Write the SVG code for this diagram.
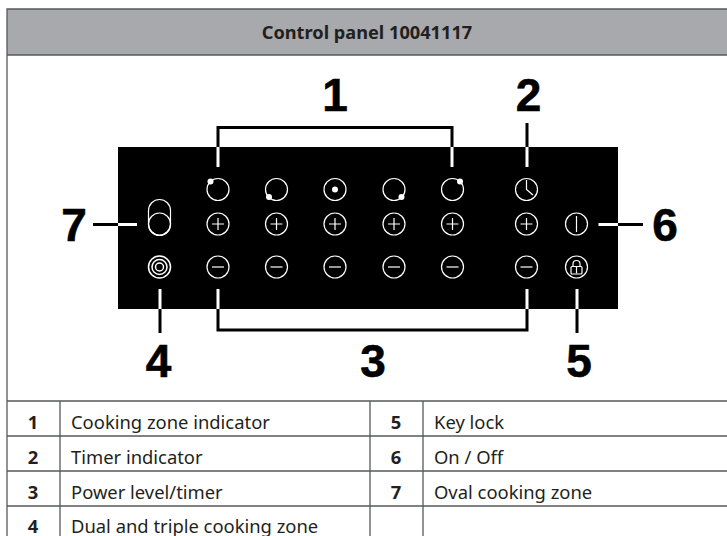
<svg xmlns="http://www.w3.org/2000/svg" width="727" height="536" viewBox="0 0 727 536">
<defs>
<style>
.w{fill:none;stroke:#fff;stroke-width:1.2}
.r{fill:none;stroke:#fff;stroke-width:1.5}
.d{fill:#fff}
.k{fill:none;stroke:#000;stroke-width:3}
.s{fill:none;stroke:#fff;stroke-width:3}
.g{fill:none;stroke:#58595b;stroke-width:1.3}
.n{font:700 46px "Liberation Sans",Arial,sans-serif;fill:#000;stroke:#000;stroke-width:.6;text-anchor:middle}
.h{font:700 18.2px "Noto Sans","Open Sans",sans-serif;fill:#231f20;text-anchor:middle}
.l{font:18.4px "Noto Sans","Open Sans",sans-serif;fill:#231f20}
.m{font:700 18.4px "Noto Sans","Open Sans",sans-serif;fill:#231f20;text-anchor:middle}
</style>
<g id="plus"><circle class="w" r="11"/><path class="w" d="M-6 0H6M0-6V6"/></g>
<g id="minus"><circle class="w" r="11"/><path class="w" d="M-6 0H6"/></g>
</defs>
<rect width="727" height="536" fill="#fff"/>
<g id="table">
<rect x="7" y="9" width="720" height="46" fill="#a7a9ac"/>
<path class="g" d="M727 9H7V536M7 55H727M7 401H727M7 436H727M7 471H727M7 506H727M60 401V536M370 401V536M423 401V536"/>
<text class="h" x="367" y="38.500">Control panel 10041117</text>
<text class="m" x="33" y="429">1</text><text class="l" x="71" y="429">Cooking zone indicator</text>
<text class="m" x="33" y="464">2</text><text class="l" x="71" y="464">Timer indicator</text>
<text class="m" x="33" y="499">3</text><text class="l" x="71" y="499">Power level/timer</text>
<text class="m" x="33" y="533">4</text><text class="l" x="71" y="533">Dual and triple cooking zone</text>
<text class="m" x="396" y="429">5</text><text class="l" x="434" y="429">Key lock</text>
<text class="m" x="396" y="464">6</text><text class="l" x="434" y="464">On / Off</text>
<text class="m" x="396" y="499">7</text><text class="l" x="434" y="499">Oval cooking zone</text>
</g>
<rect id="panel" x="118" y="147" width="500" height="162"/>
<g id="connectors">
<path class="k" d="M218 147V127.500H452V147M527 147V123M118 224.500H93M618 224.500H643M160 309V333M218 309V330H527V309M577 309V333"/>
<path class="s" d="M218 147V167M452 147V167M527 147V167M118 224.500H137M618 224.500H598.500M160 289V309M218 289V309M527 289V309M577 289V309"/>
</g>
<g id="labels">
<text class="n" x="335" y="110.500">1</text><text class="n" x="528.500" y="110.500">2</text>
<text class="n" x="373" y="377">3</text><text class="n" x="158.500" y="377">4</text>
<text class="n" x="579" y="377">5</text><text class="n" x="665" y="240.500">6</text><text class="n" x="74" y="240.500">7</text>
</g>
<g id="zones">
<g transform="translate(218 189.500)"><circle class="w" r="11"/><circle class="d" cx="-7.500" cy="-8" r="3"/></g>
<g transform="translate(276.500 189.500)"><circle class="w" r="11"/><circle class="d" cx="-7.500" cy="7.500" r="3"/></g>
<g transform="translate(335 189.500)"><circle class="w" r="11"/><circle class="d" r="3"/></g>
<g transform="translate(394 189.500)"><circle class="w" r="11"/><circle class="d" cx="7.500" cy="7.500" r="3"/></g>
<g transform="translate(452.500 189.500)"><circle class="w" r="11"/><circle class="d" cx="7.500" cy="-8" r="3"/></g>
</g>
<g id="timer"><circle class="w" cx="526.500" cy="189.500" r="11"/><path class="w" d="M526.500 180V189.500L533 195"/></g>
<g id="plus-keys">
<use href="#plus" x="218" y="224"/><use href="#plus" x="276.500" y="224"/><use href="#plus" x="335" y="224"/><use href="#plus" x="394" y="224"/><use href="#plus" x="452.500" y="224"/><use href="#plus" x="526.500" y="224"/>
</g>
<g id="minus-keys">
<use href="#minus" x="218" y="267"/><use href="#minus" x="276.500" y="267"/><use href="#minus" x="335" y="267"/><use href="#minus" x="394" y="267"/><use href="#minus" x="452.500" y="267"/><use href="#minus" x="526.500" y="267"/>
</g>
<g id="oval"><rect class="w" x="148.500" y="199.500" width="22" height="36" rx="11"/><circle class="w" cx="159.500" cy="224" r="11"/></g>
<g id="dual"><circle class="r" cx="159.500" cy="267" r="11"/><circle class="r" cx="159.500" cy="267" r="7.500"/><circle class="r" cx="159.500" cy="267" r="4"/></g>
<g id="onoff"><circle class="w" cx="576.500" cy="224" r="11"/><path class="w" d="M576.500 216V232"/></g>
<g id="lock"><circle class="w" cx="576.500" cy="267" r="11"/><rect class="w" x="571" y="266.500" width="11" height="7.500" rx="1"/><path class="w" d="M573 266.500V264a3.500 3.500 0 0 1 7 0V266.500M576.500 267V273.500"/></g>
</svg>
